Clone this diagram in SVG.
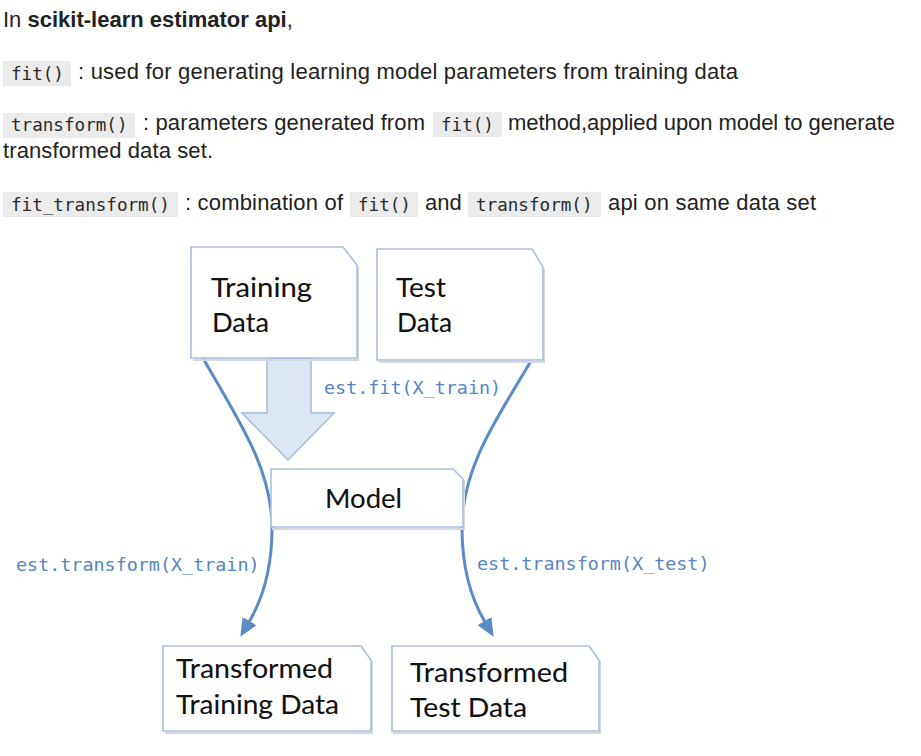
<svg xmlns="http://www.w3.org/2000/svg" width="921" height="756" viewBox="0 0 921 756">
<style>
.t{font-family:"Liberation Sans",Arial,sans-serif;font-size:22px;fill:#222}
.b{font-weight:bold}
.cbg{fill:#ebebeb}
.c{font-family:"DejaVu Sans Mono","Liberation Mono",monospace;font-size:17.6px;fill:#2a2a2a}
.box{fill:#fff;stroke:#a9bfe0;stroke-width:1.6}
.sh{fill:none;stroke:#d4d8de;stroke-width:2}
.lbl{font-family:Lato,"Open Sans","Liberation Sans",sans-serif;font-size:27.5px;fill:#111;stroke:#111;stroke-width:0.1}
.code{font-family:"DejaVu Sans Mono","Liberation Mono",monospace;font-size:18.4px;fill:#5585c2}
.curve{fill:none;stroke:#5b8bc6;stroke-width:3;marker-end:url(#ah)}
</style>
<defs>
<marker id="ah" markerUnits="userSpaceOnUse" markerWidth="20" markerHeight="18" refX="1" refY="8" orient="auto" viewBox="0 0 20 18">
<path d="M0,0 L18,8 L0,16 z" fill="#5b8bc6"/>
</marker>
</defs>
<rect width="921" height="756" fill="#fff"/>

<g id="intro">
<text class="t" x="3" y="27">In <tspan class="b">scikit-learn estimator api</tspan>,</text>
<rect class="cbg" x="3" y="61" width="68" height="25"/>
<text class="c" x="11" y="80">fit()</text>
<text class="t" x="78" y="79" textLength="660" lengthAdjust="spacing">: used for generating learning model parameters from training data</text>
<rect class="cbg" x="3" y="113" width="132" height="25"/>
<text class="c" x="11" y="131">transform()</text>
<text class="t" x="143" y="130" textLength="282" lengthAdjust="spacing">: parameters generated from</text>
<rect class="cbg" x="433" y="112" width="69" height="25"/>
<text class="c" x="441" y="131">fit()</text>
<text class="t" x="508" y="130" textLength="387" lengthAdjust="spacing">method,applied upon model to generate</text>
<text class="t" x="3" y="158" textLength="210" lengthAdjust="spacing">transformed data set.</text>
<rect class="cbg" x="3" y="192" width="175" height="25"/>
<text class="c" x="11" y="211">fit_transform()</text>
<text class="t" x="185" y="210" textLength="158" lengthAdjust="spacing">: combination of</text>
<rect class="cbg" x="350" y="192" width="68" height="25"/>
<text class="c" x="358" y="211">fit()</text>
<text class="t" x="425" y="210">and</text>
<rect class="cbg" x="468" y="192" width="133" height="25"/>
<text class="c" x="476" y="211">transform()</text>
<text class="t" x="608" y="210" textLength="208" lengthAdjust="spacing">api on same data set</text>
</g>

<g id="connectors">
<path id="fit-arrow" d="M267,358 L311,358 L311,413 L334,413 L288,460 L242,413 L267,413 z" fill="#dce6f2" stroke="#a3bbdc" stroke-width="1.5"/>
<path class="curve" d="M203,358 C238,420 272,468 272,528 C272,570 262,600 249,622"/>
<path class="curve" d="M531,361 C496,420 462,468 462,528 C462,570 472,600 485,622"/>
<text class="code" x="324" y="394">est.fit(X_train)</text>
<text class="code" x="16" y="571">est.transform(X_train)</text>
<text class="code" x="477" y="570">est.transform(X_test)</text>
</g>

<g id="training-data">
<path class="sh" d="M358,266 L358,360 L193,360"/>
<path class="box" d="M191,247 L343,247 L357,265 L357,358 L191,358 z"/>
<text class="lbl" x="211" y="297" textLength="101" lengthAdjust="spacingAndGlyphs">Training</text>
<text class="lbl" x="212" y="332" textLength="57" lengthAdjust="spacingAndGlyphs">Data</text>
</g>

<g id="test-data">
<path class="sh" d="M544,269 L544,362 L379,362"/>
<path class="box" d="M377,249 L532,249 L543,267 L543,360 L377,360 z"/>
<text class="lbl" x="396" y="297" textLength="50" lengthAdjust="spacingAndGlyphs">Test</text>
<text class="lbl" x="397" y="332" textLength="55" lengthAdjust="spacingAndGlyphs">Data</text>
</g>

<g id="model">
<path class="sh" d="M464,480 L464,529 L272,529"/>
<path class="box" d="M271,469 L453,469 L463,479 L463,527 L271,527 z"/>
<text class="lbl" x="325" y="508" textLength="77" lengthAdjust="spacingAndGlyphs">Model</text>
</g>

<g id="transformed-training">
<path class="sh" d="M372,661 L372,733 L165,733"/>
<path class="box" d="M163,646 L361,646 L371,660 L371,731 L163,731 z"/>
<text class="lbl" x="176" y="678" textLength="157" lengthAdjust="spacingAndGlyphs">Transformed</text>
<text class="lbl" x="176" y="714" textLength="163" lengthAdjust="spacingAndGlyphs">Training Data</text>
</g>

<g id="transformed-test">
<path class="sh" d="M600,661 L600,733 L393,733"/>
<path class="box" d="M392,646 L589,646 L599,660 L599,731 L392,731 z"/>
<text class="lbl" x="410" y="682" textLength="158" lengthAdjust="spacingAndGlyphs">Transformed</text>
<text class="lbl" x="410" y="717" textLength="117" lengthAdjust="spacingAndGlyphs">Test Data</text>
</g>
</svg>
